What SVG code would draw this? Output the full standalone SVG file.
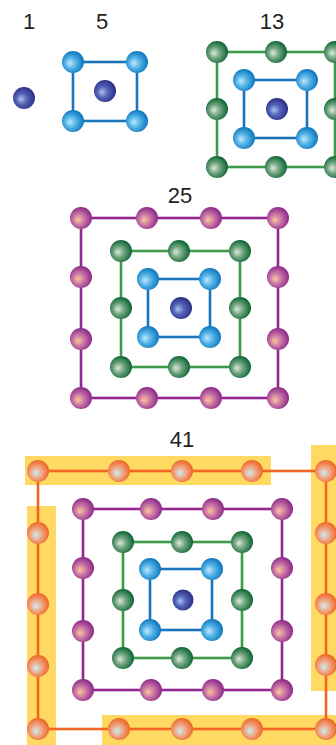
<svg xmlns="http://www.w3.org/2000/svg" width="336" height="745" viewBox="0 0 336 745">
  <defs>
    <radialGradient id="g-dark" cx="0.45" cy="0.55" r="0.55" fx="0.35" fy="0.55">
      <stop offset="0" stop-color="#a8c4ee"/>
      <stop offset="0.45" stop-color="#5563b8"/>
      <stop offset="1" stop-color="#2b2e86"/>
    </radialGradient>
    <radialGradient id="g-blue" cx="0.45" cy="0.55" r="0.55" fx="0.35" fy="0.55">
      <stop offset="0" stop-color="#c2e8fb"/>
      <stop offset="0.45" stop-color="#55b4e8"/>
      <stop offset="1" stop-color="#0d76bd"/>
    </radialGradient>
    <radialGradient id="g-green" cx="0.45" cy="0.55" r="0.55" fx="0.35" fy="0.55">
      <stop offset="0" stop-color="#dde9dd"/>
      <stop offset="0.45" stop-color="#72a57f"/>
      <stop offset="1" stop-color="#0b6634"/>
    </radialGradient>
    <radialGradient id="g-purple" cx="0.45" cy="0.55" r="0.55" fx="0.35" fy="0.6">
      <stop offset="0" stop-color="#fbc796"/>
      <stop offset="0.45" stop-color="#cc78a6"/>
      <stop offset="1" stop-color="#8b2989"/>
    </radialGradient>
    <radialGradient id="g-orange" cx="0.45" cy="0.55" r="0.55" fx="0.4" fy="0.6">
      <stop offset="0" stop-color="#c9eef6"/>
      <stop offset="0.45" stop-color="#eeaa8a"/>
      <stop offset="1" stop-color="#f06525"/>
    </radialGradient>
  </defs>
  <style>
    .label { font-family: "Liberation Sans", Arial, sans-serif; font-size: 22px; fill: #231f20; text-anchor: middle; }
    .hl { fill: #ffd961; }
    .ln { fill: none; stroke-width: 2.6; }
    .ln-blue { stroke: #1b75bc; }
    .ln-green { stroke: #3b9b48; }
    .ln-purple { stroke: #92278f; }
    .ln-orange { stroke: #f26522; }
    .dark { fill: url(#g-dark); }
    .blue { fill: url(#g-blue); }
    .green { fill: url(#g-green); }
    .purple { fill: url(#g-purple); }
    .orange { fill: url(#g-orange); }
  </style>

  <!-- labels -->
  <g id="labels">
    <text class="label" x="29" y="29">1</text>
    <text class="label" x="102" y="29">5</text>
    <text class="label" x="272" y="29">13</text>
    <text class="label" x="180" y="203">25</text>
    <text class="label" x="182" y="447">41</text>
  </g>

  <!-- yellow bands around the outer ring of 41 -->
  <g id="bands">
    <rect class="hl" x="25" y="456" width="246" height="29"/>
    <rect class="hl" x="27" y="506" width="29" height="239"/>
    <rect class="hl" x="102" y="715" width="234" height="30"/>
    <rect class="hl" x="311" y="445" width="25" height="246"/>
  </g>

  <!-- connectors: square rings -->
  <g id="connectors">
    <rect class="ln ln-blue" x="73" y="62" width="64" height="59"/>

    <rect class="ln ln-green" x="217" y="52" width="118" height="115"/>
    <rect class="ln ln-blue" x="244" y="80" width="63" height="58"/>

    <rect class="ln ln-purple" x="81" y="218" width="197" height="180"/>
    <rect class="ln ln-green" x="121" y="251" width="119" height="116"/>
    <rect class="ln ln-blue" x="148" y="279" width="62" height="58"/>

    <rect class="ln ln-orange" x="38" y="471" width="288" height="258"/>
    <rect class="ln ln-purple" x="83" y="509" width="199" height="181"/>
    <rect class="ln ln-green" x="123" y="542" width="119" height="116"/>
    <rect class="ln ln-blue" x="150" y="569" width="62" height="61"/>
  </g>

  <!-- figure 1 -->
  <g id="n1-c"><circle class="dark" cx="24" cy="98" r="11"/></g>

  <!-- figure 5 -->
  <g id="n5-c"><circle class="dark" cx="105" cy="91" r="11"/></g>
  <g id="n5-b1"><circle class="blue" cx="73" cy="62" r="11"/></g>
  <g id="n5-b2"><circle class="blue" cx="137" cy="62" r="11"/></g>
  <g id="n5-b3"><circle class="blue" cx="73" cy="121" r="11"/></g>
  <g id="n5-b4"><circle class="blue" cx="137" cy="121" r="11"/></g>

  <!-- figure 13 -->
  <g id="n13-c"><circle class="dark" cx="277" cy="109" r="11"/></g>
  <g id="n13-b1"><circle class="blue" cx="244" cy="80" r="11"/></g>
  <g id="n13-b2"><circle class="blue" cx="307" cy="80" r="11"/></g>
  <g id="n13-b3"><circle class="blue" cx="244" cy="138" r="11"/></g>
  <g id="n13-b4"><circle class="blue" cx="307" cy="138" r="11"/></g>
  <g id="n13-g1"><circle class="green" cx="217" cy="52" r="11"/></g>
  <g id="n13-g2"><circle class="green" cx="276" cy="52" r="11"/></g>
  <g id="n13-g3"><circle class="green" cx="335" cy="52" r="11"/></g>
  <g id="n13-g4"><circle class="green" cx="217" cy="109" r="11"/></g>
  <g id="n13-g5"><circle class="green" cx="335" cy="109" r="11"/></g>
  <g id="n13-g6"><circle class="green" cx="217" cy="167" r="11"/></g>
  <g id="n13-g7"><circle class="green" cx="276" cy="167" r="11"/></g>
  <g id="n13-g8"><circle class="green" cx="335" cy="167" r="11"/></g>

  <!-- figure 25 -->
  <g id="n25-c"><circle class="dark" cx="181" cy="308" r="11"/></g>
  <g id="n25-b1"><circle class="blue" cx="148" cy="279" r="11"/></g>
  <g id="n25-b2"><circle class="blue" cx="210" cy="279" r="11"/></g>
  <g id="n25-b3"><circle class="blue" cx="148" cy="337" r="11"/></g>
  <g id="n25-b4"><circle class="blue" cx="210" cy="337" r="11"/></g>
  <g id="n25-g1"><circle class="green" cx="121" cy="251" r="11"/></g>
  <g id="n25-g2"><circle class="green" cx="179" cy="251" r="11"/></g>
  <g id="n25-g3"><circle class="green" cx="240" cy="251" r="11"/></g>
  <g id="n25-g4"><circle class="green" cx="121" cy="308" r="11"/></g>
  <g id="n25-g5"><circle class="green" cx="240" cy="308" r="11"/></g>
  <g id="n25-g6"><circle class="green" cx="121" cy="367" r="11"/></g>
  <g id="n25-g7"><circle class="green" cx="179" cy="367" r="11"/></g>
  <g id="n25-g8"><circle class="green" cx="240" cy="367" r="11"/></g>
  <g id="n25-p1"><circle class="purple" cx="81" cy="218" r="11"/></g>
  <g id="n25-p2"><circle class="purple" cx="147" cy="218" r="11"/></g>
  <g id="n25-p3"><circle class="purple" cx="211" cy="218" r="11"/></g>
  <g id="n25-p4"><circle class="purple" cx="278" cy="218" r="11"/></g>
  <g id="n25-p5"><circle class="purple" cx="81" cy="277" r="11"/></g>
  <g id="n25-p6"><circle class="purple" cx="278" cy="277" r="11"/></g>
  <g id="n25-p7"><circle class="purple" cx="81" cy="339" r="11"/></g>
  <g id="n25-p8"><circle class="purple" cx="278" cy="339" r="11"/></g>
  <g id="n25-p9"><circle class="purple" cx="81" cy="398" r="11"/></g>
  <g id="n25-p10"><circle class="purple" cx="147" cy="398" r="11"/></g>
  <g id="n25-p11"><circle class="purple" cx="211" cy="398" r="11"/></g>
  <g id="n25-p12"><circle class="purple" cx="278" cy="398" r="11"/></g>

  <!-- figure 41 -->
  <g id="n41-c"><circle class="dark" cx="183" cy="600" r="10.5"/></g>
  <g id="n41-b1"><circle class="blue" cx="150" cy="569" r="11"/></g>
  <g id="n41-b2"><circle class="blue" cx="212" cy="569" r="11"/></g>
  <g id="n41-b3"><circle class="blue" cx="150" cy="630" r="11"/></g>
  <g id="n41-b4"><circle class="blue" cx="212" cy="630" r="11"/></g>
  <g id="n41-g1"><circle class="green" cx="123" cy="542" r="11"/></g>
  <g id="n41-g2"><circle class="green" cx="182" cy="542" r="11"/></g>
  <g id="n41-g3"><circle class="green" cx="242" cy="542" r="11"/></g>
  <g id="n41-g4"><circle class="green" cx="123" cy="600" r="11"/></g>
  <g id="n41-g5"><circle class="green" cx="242" cy="600" r="11"/></g>
  <g id="n41-g6"><circle class="green" cx="123" cy="658" r="11"/></g>
  <g id="n41-g7"><circle class="green" cx="182" cy="658" r="11"/></g>
  <g id="n41-g8"><circle class="green" cx="242" cy="658" r="11"/></g>
  <g id="n41-p1"><circle class="purple" cx="83" cy="509" r="11"/></g>
  <g id="n41-p2"><circle class="purple" cx="151" cy="509" r="11"/></g>
  <g id="n41-p3"><circle class="purple" cx="213" cy="509" r="11"/></g>
  <g id="n41-p4"><circle class="purple" cx="282" cy="509" r="11"/></g>
  <g id="n41-p5"><circle class="purple" cx="83" cy="568" r="11"/></g>
  <g id="n41-p6"><circle class="purple" cx="282" cy="568" r="11"/></g>
  <g id="n41-p7"><circle class="purple" cx="83" cy="631" r="11"/></g>
  <g id="n41-p8"><circle class="purple" cx="282" cy="631" r="11"/></g>
  <g id="n41-p9"><circle class="purple" cx="83" cy="690" r="11"/></g>
  <g id="n41-p10"><circle class="purple" cx="151" cy="690" r="11"/></g>
  <g id="n41-p11"><circle class="purple" cx="213" cy="690" r="11"/></g>
  <g id="n41-p12"><circle class="purple" cx="282" cy="690" r="11"/></g>
  <g id="n41-o1"><circle class="orange" cx="38" cy="471" r="11"/></g>
  <g id="n41-o2"><circle class="orange" cx="119" cy="471" r="11"/></g>
  <g id="n41-o3"><circle class="orange" cx="182" cy="471" r="11"/></g>
  <g id="n41-o4"><circle class="orange" cx="252" cy="471" r="11"/></g>
  <g id="n41-o5"><circle class="orange" cx="326" cy="471" r="11"/></g>
  <g id="n41-o6"><circle class="orange" cx="38" cy="533" r="11"/></g>
  <g id="n41-o7"><circle class="orange" cx="326" cy="533" r="11"/></g>
  <g id="n41-o8"><circle class="orange" cx="38" cy="604" r="11"/></g>
  <g id="n41-o9"><circle class="orange" cx="326" cy="604" r="11"/></g>
  <g id="n41-o10"><circle class="orange" cx="38" cy="666" r="11"/></g>
  <g id="n41-o11"><circle class="orange" cx="326" cy="665" r="11"/></g>
  <g id="n41-o12"><circle class="orange" cx="38" cy="729" r="11"/></g>
  <g id="n41-o13"><circle class="orange" cx="119" cy="729" r="11"/></g>
  <g id="n41-o14"><circle class="orange" cx="182" cy="729" r="11"/></g>
  <g id="n41-o15"><circle class="orange" cx="252" cy="729" r="11"/></g>
  <g id="n41-o16"><circle class="orange" cx="326" cy="729" r="11"/></g>
</svg>
